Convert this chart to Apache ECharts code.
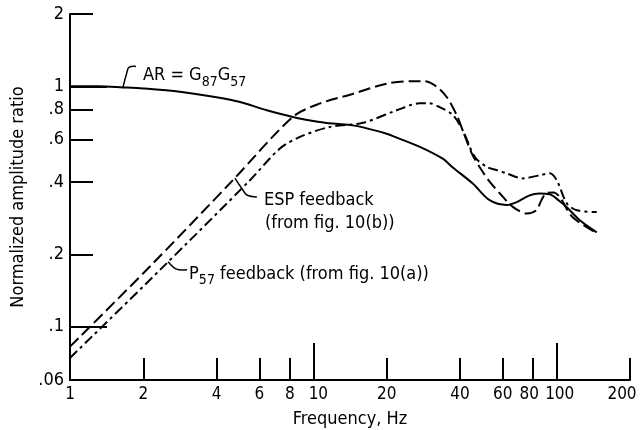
<!DOCTYPE html>
<html>
<head>
<meta charset="utf-8">
<script src="https://cdn.jsdelivr.net/npm/echarts@6/dist/echarts.min.js"></script>
<style>
  html, body { margin: 0; padding: 0; background: #fff; }
  #chart { width: 640px; height: 430px; }
</style>
</head>
<body>
<div id="chart"></div>
<script>
const FONT = '"DejaVu Sans Condensed", "Liberation Sans Narrow", "DejaVu Sans", sans-serif';

// AR = G87 G57 (solid)
const arFreq = [1, 1.3, 1.65, 2, 2.83, 4, 5, 6.44, 8.23, 10.6, 12, 14.5, 16, 20, 22, 27.4, 34, 37.4, 45.2, 53, 62.3, 68.5, 77.4, 85, 93.6, 102, 110, 124, 146];
const arAmp  = [1.0, 1.0, 0.99, 0.98, 0.95, 0.90, 0.86, 0.795, 0.746, 0.711, 0.70, 0.688, 0.675, 0.635, 0.612, 0.56, 0.50, 0.46, 0.394, 0.336, 0.321, 0.33, 0.352, 0.358, 0.356, 0.335, 0.314, 0.278, 0.247];

// ESP feedback (long dashes)
const espFreq = [1, 2.13, 4.67, 8.23, 10.6, 14.5, 20, 25.6, 28.5, 32, 35.3, 38.8, 41.1, 45, 49.7, 53.1, 58.3, 66, 75.3, 82.5, 86.5, 90.6, 97, 103, 116, 146];
const espAmp  = [0.0826, 0.178, 0.407, 0.746, 0.847, 0.93, 1.026, 1.05, 1.05, 1.0, 0.903, 0.76, 0.656, 0.52, 0.44, 0.40, 0.359, 0.315, 0.296, 0.305, 0.336, 0.359, 0.362, 0.346, 0.286, 0.245];

// P57 feedback (dash-dot)
const p57Freq = [1, 2.34, 5.49, 7.27, 8.8, 11.7, 16, 22, 27.3, 30, 33, 37.4, 41.1, 46.1, 51.6, 56.7, 62.3, 72.5, 85.2, 93.6, 100, 110, 121, 146];
const p57Amp  = [0.0741, 0.172, 0.407, 0.55, 0.616, 0.678, 0.705, 0.795, 0.85, 0.85, 0.82, 0.76, 0.656, 0.508, 0.462, 0.448, 0.434, 0.414, 0.427, 0.435, 0.407, 0.326, 0.305, 0.30];

// Axis ticks and labels
const xLabelValues = [1, 2, 4, 6, 8, 10, 20, 40, 60, 80, 100, 200];
const xMinorTicks  = [2, 4, 6, 8, 20, 40, 60, 80, 200];
const xMajorTicks  = [10, 100];
const yLabelValues = [0.06, 0.1, 0.2, 0.4, 0.6, 0.8, 1, 2];
const yLabelText   = ['.06', '.1', '.2', '.4', '.6', '.8', '1', '2'];
const yMinorTicks  = [0.2, 0.4, 0.6, 0.8, 2];
const yMajorTicks  = [0.1, 1];

const zip = (xs, ys) => xs.map((x, i) => [x, ys[i]]);

function yLabel(v) {
  let best = 0;
  yLabelValues.forEach((t, i) => {
    if (Math.abs(Math.log(t) - Math.log(v)) < Math.abs(Math.log(yLabelValues[best]) - Math.log(v))) best = i;
  });
  return yLabelText[best];
}

// hand-set nudges of a few crowded frequency labels
const xNudge = { 10: 'r10', 80: 'l8', 100: 'r6', 200: 'l16' };
function xLabel(v) {
  const n = Math.round(v);
  return xNudge[n] ? '{' + xNudge[n] + '|' + n + '}' : String(n);
}
const xRich = {};
Object.values(xNudge).forEach(k => {
  const p = +k.slice(1);
  xRich[k] = { fontFamily: FONT, fontSize: 17, color: '#000',
    padding: k[0] === 'r' ? [0, 0, 0, p] : [0, p, 0, 0] };
});

const axisLineStyle = { color: '#000', width: 2 };

function xAxisDef(ticks, len, withLine, labels) {
  return {
    type: 'log', logBase: 10, min: 1, max: 200, gridIndex: 0, position: 'bottom',
    axisLine: { show: withLine, onZero: false, lineStyle: axisLineStyle },
    axisTick: { show: true, inside: true, length: len, customValues: ticks, lineStyle: { color: '#000', width: 2 } },
    axisLabel: labels ? { show: true, customValues: labels, margin: 6, formatter: xLabel, rich: xRich,
      color: '#000', fontFamily: FONT, fontSize: 17, alignMinLabel: 'center', alignMaxLabel: 'center' } : { show: false },
    splitLine: { show: false }, minorTick: { show: false },
    name: withLine ? 'Frequency, Hz' : '', nameLocation: 'middle', nameGap: 30,
    nameTextStyle: { color: '#000', fontFamily: FONT, fontSize: 18 }
  };
}

function yAxisDef(ticks, len, withLine, labels) {
  return {
    type: 'log', logBase: 10, min: 0.06, max: 2, gridIndex: 0, position: 'left',
    axisLine: { show: withLine, onZero: false, lineStyle: axisLineStyle },
    axisTick: { show: true, inside: true, length: len, customValues: ticks, lineStyle: { color: '#000', width: 2 } },
    axisLabel: labels ? { show: true, customValues: labels, margin: 6, formatter: yLabel,
      color: '#000', fontFamily: FONT, fontSize: 18,
      verticalAlignMinLabel: 'middle', verticalAlignMaxLabel: 'middle' } : { show: false },
    splitLine: { show: false }, minorTick: { show: false },
    name: withLine ? 'Normalized amplitude ratio' : '', nameLocation: 'middle', nameGap: 38, nameRotate: 90,
    nameTextStyle: { color: '#000', fontFamily: FONT, fontSize: 18 }
  };
}

const chart = echarts.init(document.getElementById('chart'), null, { renderer: 'canvas' });

const lineSeries = (data, type) => ({
  type: 'line', xAxisIndex: 0, yAxisIndex: 0, data, showSymbol: false, symbol: 'none',
  smooth: 0.3, animation: false,
  lineStyle: { color: '#000', width: 2, type }
});

chart.setOption({
  animation: false,
  backgroundColor: '#fff',
  grid: { left: 70, right: 10, top: 14, bottom: 50, containLabel: false, outerBoundsMode: 'none' },
  xAxis: [
    xAxisDef(xMinorTicks, 22, true, xLabelValues),
    xAxisDef(xMajorTicks, 37, false, null)
  ],
  yAxis: [
    yAxisDef(yMinorTicks, 23, true, yLabelValues),
    yAxisDef(yMajorTicks, 37, false, null)
  ],
  series: [
    lineSeries(zip(arFreq, arAmp), 'solid'),
    lineSeries(zip(espFreq, espAmp), [12, 5]),
    lineSeries(zip(p57Freq, p57Amp), [10, 4, 3, 4])
  ]
});

// Curve value at a given frequency (log-log interpolation), used to anchor leaders
function valueAt(fs, vs, f) {
  for (let i = 1; i < fs.length; i++) {
    if (f <= fs[i]) {
      const t = (Math.log(f) - Math.log(fs[i - 1])) / (Math.log(fs[i]) - Math.log(fs[i - 1]));
      return Math.exp(Math.log(vs[i - 1]) + t * (Math.log(vs[i]) - Math.log(vs[i - 1])));
    }
  }
  return vs[vs.length - 1];
}

const textStyle = (text, extra) => Object.assign({
  text, fill: '#000', fontFamily: FONT, fontSize: 18, verticalAlign: 'middle', align: 'left'
}, extra || {});

const subRich = { s: { fontFamily: FONT, fontSize: 14, verticalAlign: 'bottom', lineHeight: 27 } };

// Callouts: anchor frequency on a curve, leader offsets and label offsets in pixels
const callouts = [
  { fs: arFreq, vs: arAmp, f: 1.65, leader: [[0, 0], [4, -15], [6, -20], [13, -21]],
    labels: [{ dx: 20, dy: -12, text: 'AR = G{s|87}G{s|57}', rich: true }] },
  { fs: espFreq, vs: espAmp, f: 4.76, leader: [[0, 0], [8, 12], [12, 17], [22, 19]],
    labels: [{ dx: 29, dy: 22, text: 'ESP feedback' }, { dx: 30, dy: 45, text: '(from fig. 10(b))' }] },
  { fs: p57Freq, vs: p57Amp, f: 2.53, leader: [[0, 0], [6, 6], [11, 8], [19, 8]],
    labels: [{ dx: 21, dy: 12, text: 'P{s|57} feedback (from fig. 10(a))', rich: true }] }
];

const graphics = [];
callouts.forEach(c => {
  const p = chart.convertToPixel({ xAxisIndex: 0, yAxisIndex: 0 }, [c.f, valueAt(c.fs, c.vs, c.f)]);
  graphics.push({
    type: 'polyline', silent: true,
    shape: { points: c.leader.map(o => [p[0] + o[0], p[1] + o[1]]), smooth: 0.4 },
    style: { stroke: '#000', lineWidth: 1.5, fill: null }
  });
  c.labels.forEach(l => {
    graphics.push({
      type: 'text', silent: true, x: p[0] + l.dx, y: p[1] + l.dy,
      style: textStyle(l.text, l.rich ? { rich: subRich, lineHeight: 27 } : {})
    });
  });
});
chart.setOption({ graphic: graphics });
</script>
</body>
</html>
